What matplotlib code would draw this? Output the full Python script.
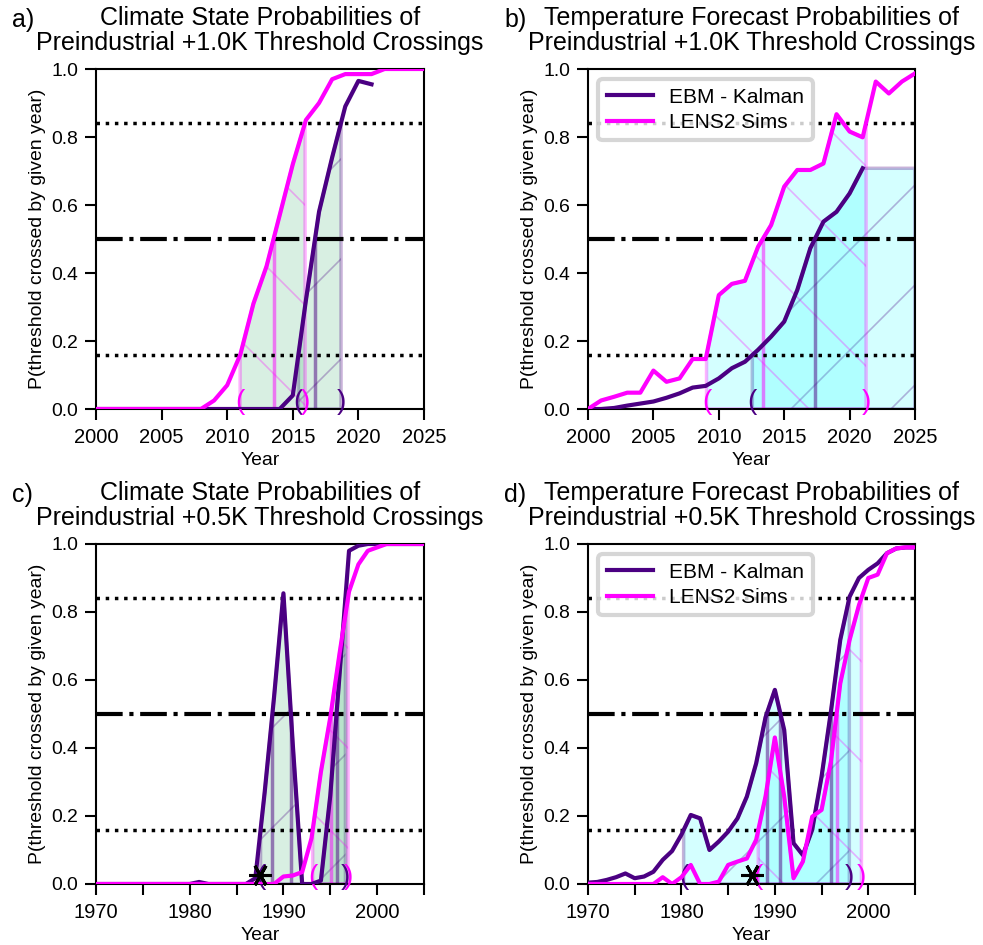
import numpy as np
import matplotlib.pyplot as plt

plt.rcParams['font.family'] = ['Liberation Sans', 'DejaVu Sans']
plt.rcParams['hatch.linewidth'] = 0.4
plt.rcParams['axes.linewidth'] = 0.5

# values, one per year
years_new = list(range(2000, 2026))
years_ebm_new = list(range(2000, 2022))
years_old = list(range(1970, 2006))

ebm_a = [0.0, 0.0, 0.0, 0.0, 0.0, 0.0, 0.0, 0.0, 0.0, 0.0, 0.0, 0.0, 0.0, 0.0,
         0.0, 0.04, 0.32, 0.58, 0.74, 0.89, 0.965, 0.955]
lens_a = [0.0, 0.0, 0.0, 0.0, 0.0, 0.0, 0.0, 0.0, 0.0, 0.025, 0.07, 0.16, 0.31,
          0.42, 0.57, 0.72, 0.85, 0.90, 0.97, 0.985, 0.985, 0.985, 1.0, 1.0, 1.0, 1.0]

ebm_b = [0.0, 0.0, 0.003, 0.01, 0.016, 0.022, 0.033, 0.046, 0.063, 0.068, 0.09,
         0.12, 0.139, 0.174, 0.213, 0.257, 0.35, 0.473, 0.551, 0.58, 0.634, 0.708]
lens_b = [0.0, 0.025, 0.036, 0.048, 0.048, 0.113, 0.080, 0.090, 0.147, 0.147, 0.335,
          0.368, 0.377, 0.477, 0.541, 0.654, 0.703, 0.703, 0.722, 0.867, 0.816,
          0.799, 0.963, 0.928, 0.963, 0.987]

ebm_c = [0.0, 0.0, 0.0, 0.0, 0.0, 0.0, 0.0, 0.0, 0.0, 0.0, 0.0, 0.006, 0.0, 0.0,
         0.0, 0.0, 0.0, 0.017, 0.27, 0.55, 0.855, 0.41, 0.0, 0.0, 0.01, 0.26, 0.62,
         0.98, 0.995, 1.0, 1.0, 1.0, 1.0, 1.0, 1.0, 1.0]
lens_c = [0.0, 0.0, 0.0, 0.0, 0.0, 0.0, 0.0, 0.0, 0.0, 0.0, 0.0, 0.0, 0.0, 0.0,
          0.0, 0.0, 0.0, 0.0, 0.0, 0.0, 0.022, 0.025, 0.035, 0.135, 0.33, 0.49,
          0.68, 0.86, 0.94, 0.98, 0.99, 1.0, 1.0, 1.0, 1.0, 1.0]

ebm_d = [0.004, 0.006, 0.012, 0.02, 0.031, 0.017, 0.022, 0.036, 0.071, 0.097,
         0.145, 0.203, 0.193, 0.10, 0.125, 0.154, 0.193, 0.257, 0.355, 0.49,
         0.571, 0.453, 0.12, 0.085, 0.16, 0.316, 0.507, 0.718, 0.845, 0.90,
         0.924, 0.943, 0.973, 0.987, 0.99, 0.99]
lens_d = [0.0, 0.0, 0.0, 0.0, 0.0, 0.0, 0.0, 0.0, 0.02, 0.0, 0.02, 0.056, 0.0, 0.0,
          0.007, 0.056, 0.066, 0.075, 0.13, 0.257, 0.431, 0.257, 0.017, 0.066,
          0.198, 0.218, 0.36, 0.59, 0.718, 0.82, 0.90, 0.91, 0.973, 0.987, 0.99, 0.99]

event_year = 1987.5
event_p = 0.026

titles = ['Climate State Probabilities of\nPreindustrial +1.0K Threshold Crossings',
          'Temperature Forecast Probabilities of\nPreindustrial +1.0K Threshold Crossings',
          'Climate State Probabilities of\nPreindustrial +0.5K Threshold Crossings',
          'Temperature Forecast Probabilities of\nPreindustrial +0.5K Threshold Crossings']
letters = ['a)', 'b)', 'c)', 'd)']

PURPLE = 'indigo'
MAGENTA = 'magenta'
LO, MID, HI = 0.1587, 0.5, 0.8413
S = 100 / 300  # sizes below are given for 100 dpi, figure is drawn at 300 dpi


def crossings(x, y, level):
    out = []
    for i in range(len(y) - 1):
        if (y[i] - level) * (y[i + 1] - level) < 0:
            out.append(x[i] + (level - y[i]) / (y[i + 1] - y[i]) * (x[i + 1] - x[i]))
    return out


def band(ax, x, y, xend, color, fill, hatch):
    t_lo = crossings(x, y, LO)[0]
    hi = crossings(x, y, HI)
    t_hi = hi[-1] if hi else xend
    xx = np.append(x, xend)
    yy = np.append(y, y[-1])
    xg = np.linspace(t_lo, t_hi, 400)
    yg = np.interp(xg, xx, yy)
    ax.fill_between(xg, 0, yg, facecolor=fill, edgecolor=(color, 0.3),
                    hatch=hatch, lw=2.5 * S, zorder=1)
    ax.vlines(crossings(x, y, MID), 0, MID, color=color, alpha=0.5, lw=2.5 * S, zorder=2)
    ax.text(t_lo, 0.02, '(', color=color, fontsize=20 * S, ha='center', va='center')
    if hi:
        ax.text(t_hi, 0.02, ')', color=color, fontsize=20 * S, ha='center', va='center')


fig = plt.figure(figsize=(984 / 300, 945 / 300), dpi=300)
boxes = [[96 / 984, 536 / 945, 328 / 984, 340 / 945],
         [588 / 984, 536 / 945, 327 / 984, 340 / 945],
         [96 / 984, 61 / 945, 328 / 984, 340 / 945],
         [588 / 984, 61 / 945, 327 / 984, 340 / 945]]
panels = [(years_ebm_new, ebm_a, years_new, lens_a, 2000, 2025, 'mediumseagreen'),
          (years_ebm_new, ebm_b, years_new, lens_b, 2000, 2025, 'cyan'),
          (years_old, ebm_c, years_old, lens_c, 1970, 2005, 'mediumseagreen'),
          (years_old, ebm_d, years_old, lens_d, 1970, 2005, 'cyan')]

for k, (xe, ye, xl, yl, x0, x1, fc) in enumerate(panels):
    ax = fig.add_axes(boxes[k])
    alpha = 0.2 if fc == 'mediumseagreen' else 0.17
    band(ax, np.array(xe, float), np.array(ye), x1, PURPLE, (fc, alpha), '/')
    band(ax, np.array(xl, float), np.array(yl), x1, MAGENTA, (fc, alpha), '\\')
    ax.axhline(HI, color='k', ls=':', lw=2.5 * S, zorder=2.5)
    ax.axhline(LO, color='k', ls=':', lw=2.5 * S, zorder=2.5)
    ax.axhline(MID, color='k', ls='-.', lw=3 * S, zorder=2.5)
    ax.plot(xe, ye, color=PURPLE, lw=3 * S, label='EBM - Kalman', zorder=3)
    ax.plot(xl, yl, color=MAGENTA, lw=3 * S, label='LENS2 Sims', zorder=3)
    if k >= 2:
        ax.plot(event_year, event_p, marker=(6, 2, 90), ms=16 * S, mew=2.2 * S,
                color='k', zorder=4, clip_on=False)
        ticks = list(range(x0, x1 + 1, 5))
        ax.set_xticks(ticks)
        ax.set_xticklabels([str(t) if t % 10 == 0 else '' for t in ticks])
    else:
        ax.set_xticks(range(x0, x1 + 1, 5))
    ax.set_xlim(x0, x1)
    ax.set_ylim(0, 1)
    ax.set_yticks(np.arange(0, 1.01, 0.2))
    ax.tick_params(labelsize=14 * S, length=8 * S, width=1.5 * S, pad=5 * S)
    ax.tick_params(axis='x', labelsize=14.5 * S, pad=6 * S)
    ax.set_xlabel('Year', fontsize=14 * S, labelpad=3 * S)
    ax.set_ylabel('P(threshold crossed by given year)', fontsize=14 * S, labelpad=4 * S)
    ax.set_title(titles[k], fontsize=18 * S, pad=14 * S, linespacing=1.05)
    ax.text(-0.256, 1 + 42 / 340, letters[k], transform=ax.transAxes,
            fontsize=18 * S, va='baseline', ha='left')
    if k % 2 == 1:
        ax.legend(loc='upper left', fontsize=15 * S, handlelength=2.2,
                  borderpad=0.4, labelspacing=0.3, framealpha=0.8)

fig.savefig('out.png', dpi=300)
